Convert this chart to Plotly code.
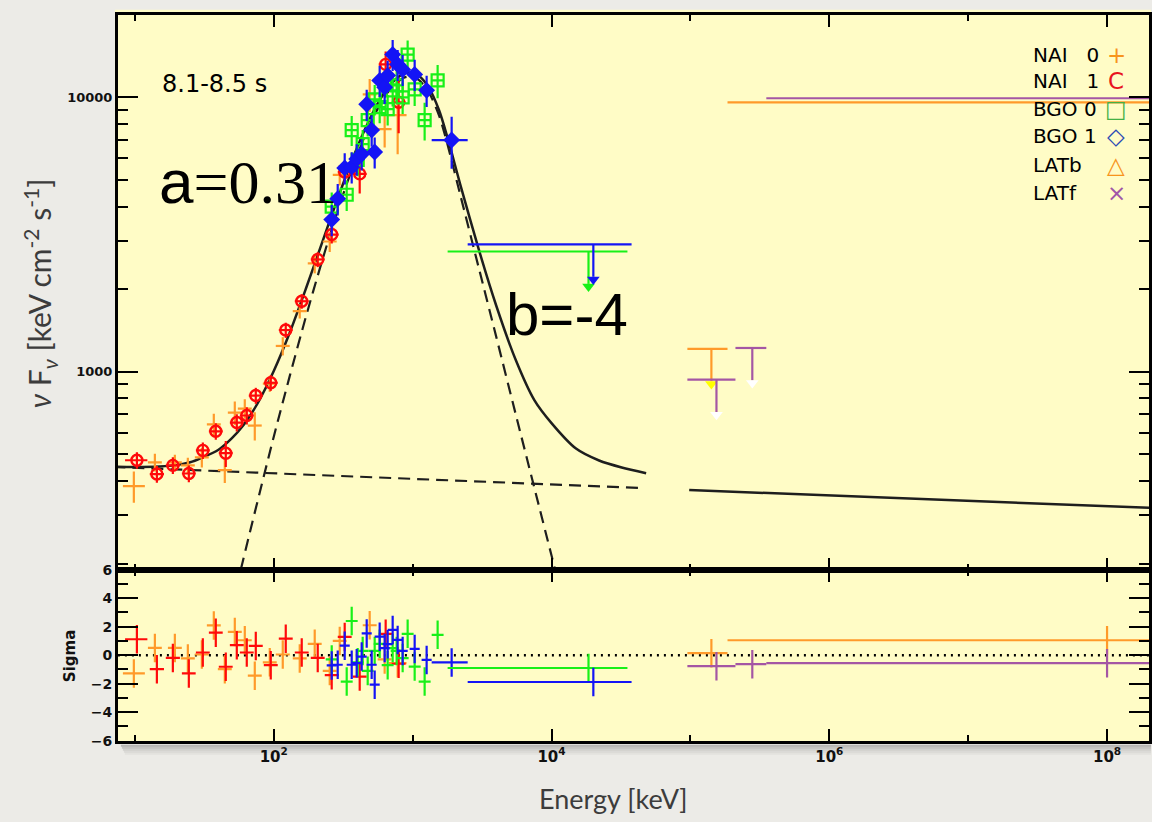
import plotly.graph_objects as go

# ---------------------------------------------------------------------------
# Spectral energy distribution, 8.1-8.5 s: nuFnu [keV cm^-2 s^-1] vs energy
# ---------------------------------------------------------------------------

# NaI detector 0
nai0_e   = [9.83, 13.93, 19.40, 24.06, 30.34, 37.01, 44.41, 52.42, 61.86, 73.00,
            93.59, 116.1, 153.8, 197.2, 252.9, 298.5, 490.6, 628.7, 780.0]
nai0_elo = [8.2, 12.41, 17.29, 21.44, 27.03, 32.98, 39.57, 46.71, 55.12, 65.04,
            83.39, 103.4, 137.0, 175.7, 225.3, 266.0, 437.1, 560.2, 673.0]
nai0_ehi = [11.8, 15.63, 21.77, 27.00, 34.04, 41.53, 49.83, 58.82, 69.41, 81.91,
            105.0, 130.3, 172.6, 221.3, 283.8, 334.9, 550.5, 705.4, 904.0]
nai0_f   = [383, 468, 468, 456, 488, 643, 438, 710, 734, 637,
            905, 1242, 1663, 2483, 2983, 5217, 10254, 7659, 8606]
nai0_ferr = [50, 35, 30, 30, 40, 60, 45, 70, 60, 75,
             60, 95, 100, 200, 250, 450, 1400, 1100, 2400]
nai0_sig = [-1.28, 0.51, 0.51, -0.23, 0.05, 2.09, -0.98, 1.63, 1.05, -1.44,
            -0.5, 0.05, -0.23, 0.8, -1.1, 1.0, 2.1, -0.3, -0.56]

# NaI detector 1
nai1_e   = [10.34, 14.40, 18.77, 24.46, 30.85, 38.25, 45.14, 54.18, 63.93, 74.23,
            95.15, 122.0, 159.0, 207.3, 261.4, 324.2, 415.7, 639.3, 793.0]
nai1_elo = [8.5, 12.8, 16.7, 21.8, 27.5, 34.1, 40.2, 48.3, 57.0, 66.1,
            84.8, 108.7, 141.7, 184.7, 232.9, 288.9, 370.4, 569.6, 706.6]
nai1_ehi = [12.3, 16.2, 21.1, 27.4, 34.6, 42.9, 50.6, 60.8, 71.7, 83.3,
            106.8, 136.9, 178.4, 232.6, 293.3, 363.7, 466.4, 717.3, 889.8]
nai1_f   = [476, 424, 456, 426, 517, 607, 505, 653, 693, 819,
            912, 1419, 1807, 2566, 3162, 5340, 5260, 13180, 9590]
nai1_ferr = [33, 30, 32, 30, 36, 42, 55, 47, 50, 55,
             60, 90, 110, 160, 230, 500, 800, 1500, 2200]
nai1_sig = [1.12, -0.98, -0.19, -1.28, 0.19, 1.58, -0.81, 0.70, 0.19, 0.65,
            -0.70, 1.16, 0.19, -0.19, -1.40, 1.28, -1.5, 1.5, -0.6]

# BGO detector 0
bgo0_e   = [261.4, 335.1, 364.1, 402.2, 436.8, 474.7, 532.9, 578.9, 660.9, 718.0,
            767.1, 847.4, 920.5, 1034, 1220, 1513]
bgo0_elo = [236.8, 303.6, 329.9, 364.4, 395.7, 430.1, 482.8, 524.5, 598.8, 650.5,
            695.0, 767.7, 834.0, 936.8, 1105, 1371]
bgo0_ehi = [288.6, 370.0, 402.0, 444.0, 482.2, 524.1, 588.3, 639.1, 729.6, 792.7,
            846.9, 935.5, 1016, 1142, 1347, 1670]
bgo0_f   = [3995, 4415, 7594, 5911, 6755, 8254, 9835, 9201, 9048, 10602,
            11054, 10000, 14316, 10691, 8254, 11525]
bgo0_ferr = [500, 560, 950, 750, 850, 1050, 1250, 1150, 1150, 1350,
             1400, 1300, 1800, 1400, 1300, 1600]
bgo0_sig = [-0.3, -1.85, 2.4, -0.5, 0.3, -1.1, 0.3, 0.8, -0.7, 0.5,
            0.3, -0.2, 1.5, -0.8, -1.85, 1.43]

# BGO detector 1
bgo1_e   = [261.4, 288.7, 324.2, 364.1, 395.5, 429.6, 466.9, 507.0, 532.9, 578.9,
            628.7, 660.9, 718.0, 780.0, 847.4, 1034, 1261, 1909]
bgo1_elo = [240.5, 265.6, 298.3, 335.0, 363.9, 395.2, 429.5, 466.4, 490.3, 532.6,
            578.4, 608.0, 660.6, 717.6, 779.6, 951.3, 1160, 1371]
bgo1_ehi = [284.1, 313.8, 352.4, 395.8, 429.9, 467.0, 507.5, 551.1, 579.3, 629.3,
            683.4, 718.4, 780.5, 847.9, 921.1, 1124, 1371, 2490]
bgo1_f   = [3584, 4270, 5530, 5577, 5963, 6217, 9432, 7594, 6322, 11525,
            10870, 12015, 14316, 13170, 12630, 12115, 10602, 6986]
bgo1_ferr = [470, 560, 720, 730, 780, 810, 1230, 990, 820, 1500,
             1420, 1560, 1860, 1710, 1640, 1580, 1380, 1500]
bgo1_sig = [-0.72, -0.67, 0.67, -0.67, -0.56, -0.1, 1.53, -0.67, -2.07, 1.3,
            0.5, 0.77, 1.77, 1.07, 0.3, 0.44, -0.33, -0.51]

# BGO upper limits (high-energy bins)
bgo0_ul_e, bgo0_ul_elo, bgo0_ul_ehi, bgo0_ul_f, bgo0_ul_sig = [18460], [1786], [35200], [2743], [-0.9]
bgo1_ul_e, bgo1_ul_elo, bgo1_ul_ehi, bgo1_ul_f, bgo1_ul_sig = [20000], [2490], [37700], [2911], [-1.88]

# LAT (back / front) upper limits
latb_ul_e, latb_ul_elo, latb_ul_ehi, latb_ul_f, latb_ul_sig = [1.416e5], [9.51e4], [1.85e5], [1211], [0.14]
latf_ul_e   = [1.54e5, 2.79e5]
latf_ul_elo = [9.51e4, 2.11e5]
latf_ul_ehi = [2.11e5, 3.52e5]
latf_ul_f   = [936, 1221]
latf_ul_sig = [-0.77, -0.63]

# LAT wide high-energy bins
latb_hi_e, latb_hi_elo, latb_hi_ehi, latb_hi_f, latb_hi_sig = [1e8], [1.85e5], [5.4e10], [9590], [1.05]
latf_hi_e, latf_hi_elo, latf_hi_ehi, latf_hi_f, latf_hi_sig = [1e8], [3.52e5], [2.8e10], [9920], [-0.56]

# Fitted model (Band a=0.31, b=-4 plus power law), tabulated
model_e = [7.0, 10, 15, 20, 25, 30, 40, 50, 60, 70, 80, 100, 130, 170, 220, 280, 350,
           450, 570, 700, 850, 950, 1100, 1300, 1550, 1773, 2200, 3000, 4000, 5500,
           7500, 10000, 15000, 22000, 32000, 48000]
model_f = [451, 450, 452, 457, 468, 485, 520, 573, 636, 712, 799, 1006, 1384, 2002,
           2900, 4100, 5560, 7580, 9640, 11210, 12150, 12310, 12000, 10890, 8970,
           7200, 4820, 2780, 1740, 1110, 790, 650, 525, 475, 448, 427]
band_e = [50, 60, 70, 80, 100, 130, 170, 220, 280, 350, 450, 570, 700, 850, 950, 1100,
          1300, 1550, 1773, 2200, 3000, 4000, 5500, 7500, 10000, 11000]
band_f = [140, 205, 282, 370, 580, 960, 1580, 2480, 3690, 5140, 7170, 9230, 10800,
          11740, 11900, 11590, 10480, 8570, 6800, 4420, 2380, 1340, 706, 380, 214, 177]
pl_e = [7.0, 46500]
pl_f = [450, 377]
lat_model_e = [9.8e4, 2.5e8]
lat_model_f = [371, 318]

RESID_ERR = 1.0          # residuals are in units of sigma

# Axis ticks
x_ticks = [1e2, 1e4, 1e6, 1e8]
x_ticktext = ["<b>10<sup>2</sup></b>", "<b>10<sup>4</sup></b>",
              "<b>10<sup>6</sup></b>", "<b>10<sup>8</sup></b>"]
x_minor = [1e1, 1e3, 1e5, 1e7]
y_ticks = [1000, 10000]
y_ticktext = ["<b>1000</b>", "<b>10000</b>"]
y_minor = [200, 300, 400, 500, 600, 700, 800, 900,
           2000, 3000, 4000, 5000, 6000, 7000, 8000, 9000]
s_ticks = [-6, -4, -2, 0, 2, 4, 6]
s_ticktext = ["<b>\u22126</b>", "<b>\u22124</b>", "<b>\u22122</b>", "<b>0</b>",
              "<b>2</b>", "<b>4</b>", "<b>6</b>"]
s_minor = [-5, -3, -1, 1, 3, 5]

# ---------------------------------------------------------------------------
ORANGE = "#ff9a2a"
RED = "#ff0a0a"
GREEN = "#18f018"
BLUE = "#1414f5"
PURPLE = "#a456a4"
YELLOW_BG = "#fffcc6"
PAPER = "#ecebe7"
MODEL = "#1e1e1e"

W, H = 1152, 822
X0, X1 = 118, 1150          # frame, pixels
TOP_Y0, TOP_Y1 = 12, 570
RES_Y1 = 742


def px(x):
    return x / W


def py(y):
    # vertical pixel -> paper fraction, with the page's vertical fit folded in
    return 1 - ((y - 5.2) / 0.986) / H


STEM = 10 ** -0.118        # arrow stem length (log factor)
HEAD = 10 ** -0.128        # arrow head centre (log factor)

fig = go.Figure()


def xerr(e, lo, hi, color, thick=2.2):
    return dict(type="data", symmetric=False,
                array=[h - c for c, h in zip(e, hi)],
                arrayminus=[c - l for c, l in zip(e, lo)],
                color=color, thickness=thick, width=0)


def add_set(e, lo, hi, f, ferr, sig, color, marker):
    fig.add_trace(go.Scatter(
        x=e, y=f, mode="markers", marker=marker,
        error_x=xerr(e, lo, hi, color),
        error_y=dict(type="data", array=ferr, color=color, thickness=2.2, width=0),
        xaxis="x", yaxis="y", showlegend=False, hoverinfo="skip"))
    fig.add_trace(go.Scatter(
        x=e, y=sig, mode="markers", marker=dict(size=1, color=color),
        error_x=xerr(e, lo, hi, color),
        error_y=dict(type="constant", value=RESID_ERR, color=color, thickness=2.2, width=0),
        xaxis="x2", yaxis="y2", showlegend=False, hoverinfo="skip"))


def add_ul(e, lo, hi, f, sig, color, head_color):
    fig.add_trace(go.Scatter(
        x=e, y=f, mode="markers", marker=dict(size=1, color=color),
        error_x=xerr(e, lo, hi, color),
        error_y=dict(type="data", symmetric=False, array=[0] * len(f),
                     arrayminus=[v * (1 - STEM) for v in f],
                     color=color, thickness=2.2, width=0),
        xaxis="x", yaxis="y", showlegend=False, hoverinfo="skip"))
    fig.add_trace(go.Scatter(
        x=e, y=[v * HEAD for v in f], mode="markers",
        marker=dict(symbol="triangle-down", size=11, color=head_color, line=dict(width=0)),
        xaxis="x", yaxis="y", showlegend=False, hoverinfo="skip"))
    fig.add_trace(go.Scatter(
        x=e, y=sig, mode="markers", marker=dict(size=1, color=color),
        error_x=xerr(e, lo, hi, color),
        error_y=dict(type="constant", value=RESID_ERR, color=color, thickness=2.2, width=0),
        xaxis="x2", yaxis="y2", showlegend=False, hoverinfo="skip"))


def add_wide(e, lo, hi, f, sig, color):
    fig.add_trace(go.Scatter(
        x=e, y=f, mode="markers", marker=dict(size=1, color="rgba(0,0,0,0)"),
        error_x=xerr(e, lo, hi, color),
        xaxis="x", yaxis="y", showlegend=False, hoverinfo="skip"))
    fig.add_trace(go.Scatter(
        x=e, y=sig, mode="markers", marker=dict(size=1, color=color),
        error_x=xerr(e, lo, hi, color),
        error_y=dict(type="constant", value=RESID_ERR, color=color, thickness=2.2, width=0),
        xaxis="x2", yaxis="y2", showlegend=False, hoverinfo="skip"))


# model curves
fig.add_trace(go.Scatter(x=pl_e, y=pl_f, mode="lines",
                         line=dict(color=MODEL, width=2.2, dash="12px,7px"),
                         xaxis="x", yaxis="y", showlegend=False, hoverinfo="skip"))
fig.add_trace(go.Scatter(x=band_e, y=band_f, mode="lines",
                         line=dict(color=MODEL, width=2.2, dash="12px,7px", shape="spline", smoothing=0.8),
                         xaxis="x", yaxis="y", showlegend=False, hoverinfo="skip"))
fig.add_trace(go.Scatter(x=model_e, y=model_f, mode="lines",
                         line=dict(color=MODEL, width=2.5, shape="spline", smoothing=0.8),
                         xaxis="x", yaxis="y", showlegend=False, hoverinfo="skip"))
fig.add_trace(go.Scatter(x=lat_model_e, y=lat_model_f, mode="lines",
                         line=dict(color=MODEL, width=2.5),
                         xaxis="x", yaxis="y", showlegend=False, hoverinfo="skip"))

# data
add_set(nai0_e, nai0_elo, nai0_ehi, nai0_f, nai0_ferr, nai0_sig, ORANGE,
        dict(size=2, color=ORANGE))
add_set(nai1_e, nai1_elo, nai1_ehi, nai1_f, nai1_ferr, nai1_sig, RED,
        dict(symbol="circle-open", size=11, color=RED, line=dict(width=2.4)))
add_set(bgo0_e, bgo0_elo, bgo0_ehi, bgo0_f, bgo0_ferr, bgo0_sig, GREEN,
        dict(symbol="square-open", size=12, color=GREEN, line=dict(width=2.2)))
add_set(bgo1_e, bgo1_elo, bgo1_ehi, bgo1_f, bgo1_ferr, bgo1_sig, BLUE,
        dict(symbol="diamond", size=13, color=BLUE, line=dict(width=0)))

add_ul(bgo0_ul_e, bgo0_ul_elo, bgo0_ul_ehi, bgo0_ul_f, bgo0_ul_sig, GREEN, GREEN)
add_ul(bgo1_ul_e, bgo1_ul_elo, bgo1_ul_ehi, bgo1_ul_f, bgo1_ul_sig, BLUE, BLUE)
add_ul(latb_ul_e, latb_ul_elo, latb_ul_ehi, latb_ul_f, latb_ul_sig, ORANGE, "#ffff00")
add_ul(latf_ul_e, latf_ul_elo, latf_ul_ehi, latf_ul_f, latf_ul_sig, PURPLE, "#ffffff")
add_wide(latb_hi_e, latb_hi_elo, latb_hi_ehi, latb_hi_f, latb_hi_sig, ORANGE)
add_wide(latf_hi_e, latf_hi_elo, latf_hi_ehi, latf_hi_f, latf_hi_sig, PURPLE)

# ---------------------------------------------------------------------------
TICKFONT = dict(family="DejaVu Sans", size=13, color="#111111")
xrange_log = [0.8777, 8.302]

common_x = dict(type="log", range=xrange_log, domain=[px(X0), px(X1)],
                showline=True, linecolor="black", linewidth=2.8, mirror="ticks",
                ticks="inside", ticklen=12, tickwidth=2.4, tickcolor="black",
                tickvals=x_ticks, ticktext=x_ticktext, showgrid=False, zeroline=False,
                minor=dict(tickvals=x_minor, ticks="inside", ticklen=6, tickwidth=2.2,
                           tickcolor="black", showgrid=False))

fig.update_layout(
    width=W, height=H,
    margin=dict(l=0, r=0, t=0, b=0),
    paper_bgcolor=PAPER, plot_bgcolor=YELLOW_BG,
    showlegend=False,
    xaxis=dict(common_x, anchor="y", showticklabels=False),
    yaxis=dict(type="log", range=[2.279, 4.3007], domain=[py(TOP_Y1), py(TOP_Y0)],
               anchor="x", showline=True, linecolor="black", linewidth=2.8, mirror="ticks",
               ticks="inside", ticklen=20, tickwidth=2.4, tickcolor="black",
               tickvals=y_ticks, ticktext=y_ticktext, tickfont=TICKFONT,
               showgrid=False, zeroline=False,
               minor=dict(tickvals=y_minor, ticks="inside", ticklen=10, tickwidth=2.2,
                          tickcolor="black", showgrid=False)),
    xaxis2=dict(common_x, anchor="y2", showticklabels=True,
                tickfont=dict(family="DejaVu Sans", size=15, color="#111111")),
    yaxis2=dict(range=[-6, 6], domain=[py(RES_Y1), py(TOP_Y1)], anchor="x2",
                showline=True, linecolor="black", linewidth=2.8, mirror="ticks",
                ticks="inside", ticklen=20, tickwidth=2.4, tickcolor="black",
                tickvals=s_ticks, ticktext=s_ticktext,
                tickfont=dict(family="DejaVu Sans", size=14, color="#111111"),
                showgrid=False, zeroline=False,
                minor=dict(tickvals=s_minor, ticks="inside", ticklen=10, tickwidth=2.2,
                           tickcolor="black", showgrid=False)),
)

# backdrop of the plot image, its shadow and the zero-residual line
shapes = [dict(type="rect", xref="paper", yref="paper", x0=px(115), x1=1.0,
               y0=py(745), y1=py(7), fillcolor=YELLOW_BG, line=dict(width=0), layer="below")]
for i, a in enumerate([0.30, 0.22, 0.15, 0.09, 0.05]):
    shapes.append(dict(type="rect", xref="paper", yref="paper",
                       x0=px(121 + i), x1=1.0, y0=py(746 + 2 * i + 2), y1=py(746 + 2 * i),
                       fillcolor=f"rgba(60,60,60,{a})", line=dict(width=0), layer="below"))
shapes.append(dict(type="line", xref="x2 domain", yref="y2", x0=0, x1=1, y0=0, y1=0,
                   line=dict(color="black", width=2.5, dash="2px,5px"), layer="below"))
fig.update_layout(shapes=shapes)

# text
ann = []
ann.append(dict(text="8.1-8.5 s", x=px(160), y=py(82), xanchor="left", yanchor="middle",
                font=dict(family="DejaVu Sans", size=24, color="black")))
ann.append(dict(text='<span style="font-family:Liberation Sans">a</span>=0.31',
                x=px(157), y=py(180), xanchor="left", yanchor="middle",
                font=dict(family="Liberation Serif", size=62, color="black")))
ann.append(dict(text="b=-4", x=px(504), y=py(313), xanchor="left", yanchor="middle",
                font=dict(family="Liberation Sans", size=60, color="black")))

legend_rows = [("NAI\u00a0\u00a0\u00a00", "+", "#f7941d", 52),
               ("NAI\u00a0\u00a0\u00a01", "C", "#e8141e", 79),
               ("BGO\u00a00", "\u25a1", "#45b045", 107),
               ("BGO\u00a01", "\u25c7", "#2b4bb5", 134),
               ("LATb", "\u25b3", "#f7941d", 163),
               ("LATf", "\u00d7", "#a055a8", 191)]
for label, sym, col, yy in legend_rows:
    ann.append(dict(text=label, x=px(1032), y=py(yy), xanchor="left", yanchor="middle",
                    font=dict(family="DejaVu Sans", size=20, color="black")))
    ann.append(dict(text=sym, x=px(1117), y=py(yy), xanchor="center", yanchor="middle",
                    font=dict(family="DejaVu Sans", size=23, color=col)))

ann.append(dict(text="Energy [keV]", x=px(614), y=py(800), xanchor="center", yanchor="middle",
                font=dict(family="Lato", size=27, color="#3c3c3c")))
ann.append(dict(text="<i>\u03bd</i> F<sub><i>\u03bd</i></sub> [keV cm<sup>-2</sup> s<sup>-1</sup>]",
                x=px(40), y=py(292), xanchor="center", yanchor="middle", textangle=-90,
                font=dict(family="Lato", size=30, color="#3c3c3c")))
ann.append(dict(text="<b>Sigma</b>", x=px(70), y=py(657), xanchor="center", yanchor="middle",
                textangle=-90, font=dict(family="DejaVu Sans", size=15, color="#111111")))
for a in ann:
    a.update(xref="paper", yref="paper", showarrow=False)
fig.update_layout(annotations=ann)

fig.write_html("out.html")
